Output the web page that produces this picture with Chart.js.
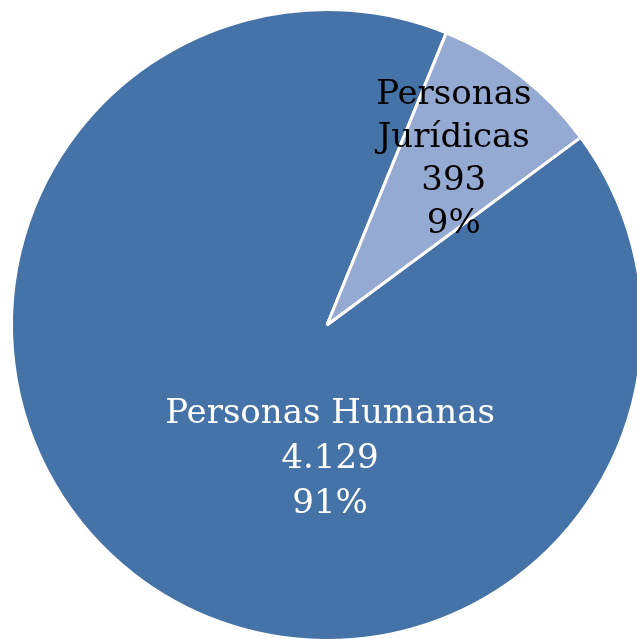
<!DOCTYPE html>
<html>
<head>
<meta charset="utf-8">
<script src="https://cdn.jsdelivr.net/npm/chart.js@4/dist/chart.umd.min.js"></script>
<style>
    html, body { margin: 0; padding: 0; background: #fff; overflow: hidden; width: 637px; height: 639px; }
    .wrap { position: absolute; left: 0; top: -2px; width: 654px; height: 654px; }
</style>
</head>
<body>
<div class="wrap"><canvas class="personas"></canvas></div>
<script>
/*============================
  PERSONAS - PIE
=============================*/

let
    labels = [['Personas Humanas'], ['Personas', 'Jurídicas']],
    values = [4129, 393],
    colors = ['#4673A7', '#94AAD2'],
    textColors = ['#ffffff', '#000000'];

// where each label block sits: angle from top (deg) and fraction of radius
let labelSpots = [
    { angle: 178.7, dist: 0.425 },
    { angle: 37.5, dist: 0.66 }
];

function formatNumber(n) {
    return String(n).replace(/\B(?=(\d{3})+(?!\d))/g, '.');
}

const pieLabels = {
    id: 'pieLabels',
    afterDatasetsDraw(chart) {
        let ctx = chart.ctx;
        let meta = chart.getDatasetMeta(0);
        let total = values.reduce((a, b) => a + b, 0);
        ctx.save();
        ctx.font = '34px "DejaVu Serif"';
        ctx.textAlign = 'center';
        ctx.textBaseline = 'middle';
        meta.data.forEach((arc, i) => {
            let spot = labelSpots[i];
            let a = spot.angle * Math.PI / 180;
            let cx = arc.x + Math.sin(a) * arc.outerRadius * spot.dist;
            let cy = arc.y - Math.cos(a) * arc.outerRadius * spot.dist;
            let lines = labels[i].concat([formatNumber(values[i]), Math.round(values[i] / total * 100) + '%']);
            let lh = i === 0 ? 45 : 43;
            let top = cy - (lines.length - 1) * lh / 2;
            ctx.fillStyle = textColors[i];
            lines.forEach((t, j) => ctx.fillText(t, cx, top + j * lh));
        });
        ctx.restore();
    }
};

function displayPersonasChart() {
    let personasChart = document.querySelector('.personas').getContext('2d');
    new Chart(personasChart, {
        type: 'pie',
        data: {
            labels: labels.map(l => l.join(' ')),
            datasets: [{
                data: values,
                backgroundColor: colors,
                borderColor: '#ffffff',
                borderWidth: 3
            }]
        },
        options: {
            responsive: true,
            maintainAspectRatio: false,
            animation: false,
            rotation: 53.5,
            layout: { padding: 10 },
            plugins: {
                legend: { display: false },
                tooltip: { enabled: false }
            }
        },
        plugins: [pieLabels]
    });
}
displayPersonasChart();
</script>
</body>
</html>
